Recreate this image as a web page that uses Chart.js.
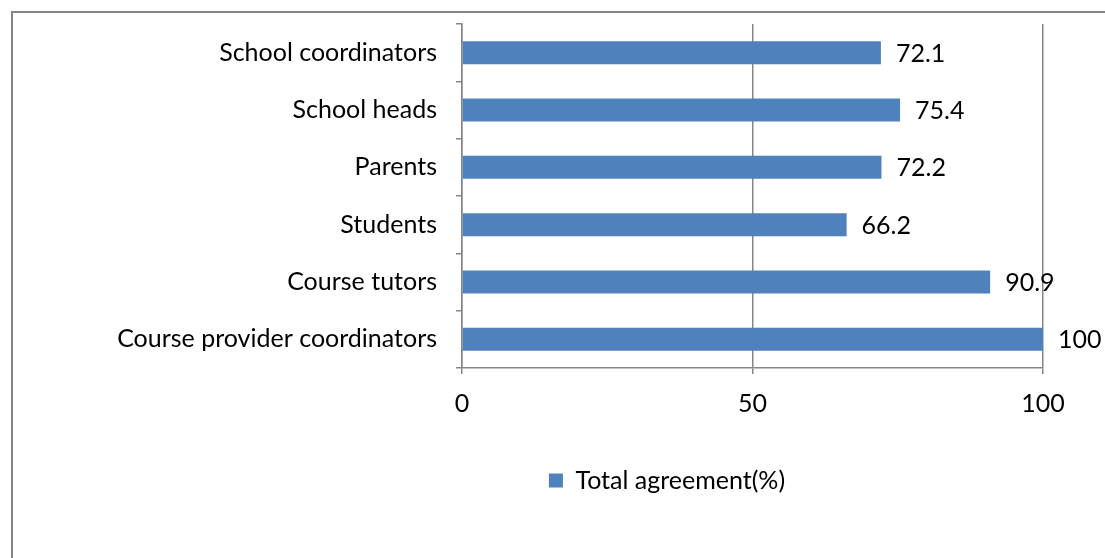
<!DOCTYPE html>
<html>
<head>
<meta charset="utf-8">
<script src="https://cdn.jsdelivr.net/npm/chart.js@4.4.0/dist/chart.umd.min.js"></script>
<style>
html, body { margin: 0; padding: 0; overflow: hidden; background: #fff; }
#wrap { position: absolute; left: 0; top: 0; width: 1334px; height: 600px; }
</style>
</head>
<body>
<div id="wrap"><canvas id="c" width="1334" height="600"></canvas></div>
<script>
const categories = ["School coordinators", "School heads", "Parents", "Students", "Course tutors", "Course provider coordinators"];
const agreementValues = [72.1, 75.4, 72.2, 66.2, 90.9, 100];
const seriesName = "Total agreement(%)";
const xTicks = [0, 50, 100];

const FONT = "Lato, 'Open Sans', sans-serif";
const FSIZE = 25;
const GRAY = "#868686";
const BLUE = "#4F81BD";
const LEGEND_CENTER_X = 667;

const framePlugin = {
  id: 'frame',
  beforeDraw(chart) {
    const ctx = chart.ctx;
    ctx.save();
    ctx.fillStyle = '#fff';
    ctx.fillRect(0, 0, chart.width, chart.height);
    ctx.strokeStyle = GRAY;
    ctx.lineWidth = 2;
    ctx.strokeRect(12, 12, chart.width - 24, chart.height - 24);
    ctx.restore();
  }
};

const legendShiftPlugin = {
  id: 'legendShift',
  afterLayout(chart) {
    const lg = chart.legend;
    if (!lg) return;
    const right = lg.right;
    lg.left = 2 * LEGEND_CENTER_X - right;
    lg.width = right - lg.left;
  }
};

const valueLabelPlugin = {
  id: 'valueLabels',
  afterDatasetsDraw(chart) {
    const ctx = chart.ctx;
    const meta = chart.getDatasetMeta(0);
    const data = chart.data.datasets[0].data;
    ctx.save();
    ctx.font = FSIZE + "px " + FONT;
    ctx.fillStyle = "#000";
    ctx.textAlign = "left";
    ctx.textBaseline = "middle";
    meta.data.forEach((bar, i) => {
      ctx.fillText(String(data[i]), bar.x + 15, bar.y + 1);
    });
    ctx.restore();
  }
};

new Chart(document.getElementById('c'), {
  type: 'bar',
  data: {
    labels: categories,
    datasets: [{
      label: seriesName,
      data: agreementValues,
      backgroundColor: BLUE,
      borderColor: BLUE,
      borderWidth: 0,
      categoryPercentage: 0.8,
      barPercentage: 0.5
    }]
  },
  options: {
    indexAxis: 'y',
    responsive: false,
    animation: false,
    devicePixelRatio: 1,
    layout: { padding: { top: 24, left: 0, right: 291, bottom: 97 } },
    plugins: {
      tooltip: { enabled: false },
      legend: {
        position: 'bottom',
        labels: {
          font: { size: FSIZE, family: FONT },
          color: '#000',
          boxWidth: 14,
          boxHeight: 14,
          padding: 10
        }
      }
    },
    scales: {
      x: {
        min: 0, max: 100,
        afterBuildTicks(scale) { scale.ticks = xTicks.map(v => ({ value: v })); },
        afterFit(scale) { scale.height = 90; },
        ticks: { font: { size: FSIZE, family: FONT }, color: '#000', padding: 15 },
        grid: { color: GRAY, lineWidth: 1.5, tickLength: 6, drawOnChartArea: true },
        border: { color: GRAY, width: 1.5 }
      },
      y: {
        afterFit(scale) { scale.width = 462; scale.paddingTop = 0; scale.paddingBottom = 0; },
        ticks: { font: { size: FSIZE, family: FONT }, color: '#000', padding: 19 },
        grid: { color: GRAY, lineWidth: 1.5, tickLength: 6, drawOnChartArea: false, offset: true },
        border: { color: GRAY, width: 1.5 }
      }
    }
  },
  plugins: [framePlugin, legendShiftPlugin, valueLabelPlugin]
});
</script>
</body>
</html>
